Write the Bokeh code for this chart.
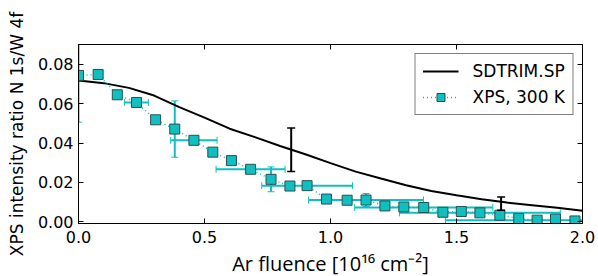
from bokeh.plotting import figure
from bokeh.models import (Range1d, LinearAxis, FixedTicker, ColumnDataSource, Whisker,
                          TeeHead, Legend, LegendItem)
from bokeh.embed import file_html
from bokeh.resources import INLINE

# ---- data ----
xps_x = [0.0, 0.078, 0.154, 0.230, 0.306, 0.382, 0.458, 0.533, 0.607, 0.683,
         0.764, 0.839, 0.907, 0.984, 1.066, 1.141, 1.216, 1.291, 1.370, 1.446,
         1.519, 1.593, 1.672, 1.747, 1.820, 1.893, 1.970]
xps_y = [0.0743, 0.0748, 0.0645, 0.0606, 0.0518, 0.0471, 0.0414, 0.0354, 0.0311, 0.0267,
         0.0216, 0.0182, 0.0184, 0.0116, 0.0110, 0.0111, 0.0081, 0.0076, 0.0073, 0.0049,
         0.0053, 0.0046, 0.0034, 0.0017, 0.0009, 0.0014, 0.0005]
xps_xerr = [0, 0, 0, 0.047, 0, 0, 0.092, 0, 0, 0.137,
            0, 0, 0.180, 0, 0, 0.228, 0, 0, 0.274, 0,
            0, 0.319, 0, 0, 0.364, 0, 0]
xps_yerr = [0.0237, 0, 0, 0, 0, 0.0143, 0, 0, 0, 0,
            0.0063, 0, 0, 0, 0, 0.0033, 0, 0, 0, 0,
            0.0016, 0, 0, 0, 0, 0.0004, 0]

sd_x = [0.0, 0.1, 0.2, 0.3, 0.4, 0.5, 0.6, 0.7, 0.8, 0.9, 1.0,
        1.1, 1.2, 1.3, 1.4, 1.5, 1.6, 1.7, 1.8, 1.9, 2.0]
sd_y = [0.0717, 0.0704, 0.0680, 0.0641, 0.0582, 0.0529, 0.0473, 0.0430, 0.0385, 0.0343, 0.0298,
        0.0255, 0.0220, 0.0186, 0.0157, 0.0135, 0.0115, 0.0098, 0.0085, 0.0072, 0.0057]
sd_err_x = [0.844, 1.677]
sd_err_y = [0.0366, 0.0093]
sd_err = [0.0110, 0.0034]

x_ticks = [0.0, 0.5, 1.0, 1.5, 2.0]
x_tick_labels = ["0.0", "0.5", "1.0", "1.5", "2.0"]
y_ticks = [0.00, 0.02, 0.04, 0.06, 0.08]
y_tick_labels = ["0.00", "0.02", "0.04", "0.06", "0.08"]

x_label = "Ar fluence [10\u00b9\u2076 cm\u207b\u00b2]"
y_label = "XPS intensity ratio N 1s/W 4f"
series_names = ["SDTRIM.SP", "XPS, 300 K"]

CYAN = "#10bfbf"

p = figure(frame_width=504, frame_height=179,
           x_range=Range1d(0, 2.0), y_range=Range1d(-0.0008, 0.09),
           output_backend="svg", toolbar_location=None,
           min_border_left=78, min_border_right=16, min_border_top=44, min_border_bottom=50)
p.xgrid.visible = False
p.ygrid.visible = False
p.outline_line_color = "black"
p.outline_line_width = 1
p.background_fill_color = "white"
p.border_fill_color = "white"

bottom_axis = p.xaxis[0]
left_axis = p.yaxis[0]
bottom_axis.ticker = FixedTicker(ticks=x_ticks)
bottom_axis.major_label_overrides = {t: l for t, l in zip(x_ticks, x_tick_labels)}
left_axis.ticker = FixedTicker(ticks=y_ticks)
left_axis.major_label_overrides = {t: l for t, l in zip(y_ticks, y_tick_labels)}

top_axis = LinearAxis(ticker=FixedTicker(ticks=x_ticks))
right_axis = LinearAxis(ticker=FixedTicker(ticks=y_ticks))
p.add_layout(top_axis, "above")
p.add_layout(right_axis, "right")

for ax in [bottom_axis, left_axis, top_axis, right_axis]:
    ax.major_tick_in = 5
    ax.major_tick_out = 0
    ax.minor_tick_in = 0
    ax.minor_tick_out = 0
    ax.axis_line_color = "black"
    ax.major_tick_line_color = "black"
    ax.major_label_text_color = "black"
    ax.major_label_text_font = "DejaVu Sans"
    ax.major_label_text_font_size = "16px"

for ax in [top_axis, right_axis]:
    ax.major_label_text_color = None
    ax.major_label_standoff = 0

bottom_axis.major_label_standoff = 7
left_axis.major_label_standoff = 5
bottom_axis.axis_label = x_label
bottom_axis.axis_label_text_font = "Open Sans"
bottom_axis.axis_label_text_font_size = "20px"
bottom_axis.axis_label_text_font_style = "normal"
bottom_axis.axis_label_text_color = "black"
bottom_axis.axis_label_standoff = 4
left_axis.axis_label = y_label
left_axis.axis_label_text_font = "DejaVu Sans"
left_axis.axis_label_text_font_size = "17px"
left_axis.axis_label_text_font_style = "normal"
left_axis.axis_label_text_color = "black"
left_axis.axis_label_standoff = 8

# SDTRIM curve
sd_line = p.line(sd_x, sd_y, line_color="black", line_width=2)
sd_src = ColumnDataSource(dict(x=sd_err_x,
                               lo=[y - e for y, e in zip(sd_err_y, sd_err)],
                               hi=[y + e for y, e in zip(sd_err_y, sd_err)]))
p.add_layout(Whisker(source=sd_src, base="x", lower="lo", upper="hi", dimension="height",
                     line_color="black", line_width=2, level="glyph",
                     upper_head=TeeHead(size=8, line_color="black", line_width=1.5),
                     lower_head=TeeHead(size=8, line_color="black", line_width=1.5)))

# XPS error bars
hx = [(x, y, e) for x, y, e in zip(xps_x, xps_y, xps_xerr) if e > 0]
hsrc = ColumnDataSource(dict(y=[t[1] for t in hx],
                             lo=[t[0] - t[2] for t in hx],
                             hi=[t[0] + t[2] for t in hx]))
p.add_layout(Whisker(source=hsrc, base="y", lower="lo", upper="hi", dimension="width",
                     line_color=CYAN, line_width=2, level="underlay",
                     upper_head=TeeHead(size=7, line_color=CYAN, line_width=1),
                     lower_head=TeeHead(size=7, line_color=CYAN, line_width=1)))
vy = [(x, y, e) for x, y, e in zip(xps_x, xps_y, xps_yerr) if e > 0]
vsrc = ColumnDataSource(dict(x=[t[0] for t in vy],
                             lo=[t[1] - t[2] for t in vy],
                             hi=[t[1] + t[2] for t in vy]))
p.add_layout(Whisker(source=vsrc, base="x", lower="lo", upper="hi", dimension="height",
                     line_color=CYAN, line_width=2, level="underlay",
                     upper_head=TeeHead(size=7, line_color=CYAN, line_width=1),
                     lower_head=TeeHead(size=7, line_color=CYAN, line_width=1)))

xps_line = p.line(xps_x, xps_y, line_color=CYAN, line_width=1.5, line_dash="1 3")
xps_pts = p.scatter(xps_x, xps_y, marker="square", size=10, fill_color=CYAN,
                    line_color="#2a4f4f", line_width=1)

legend = Legend(items=[LegendItem(label=series_names[0], renderers=[sd_line]),
                       LegendItem(label=series_names[1], renderers=[xps_line, xps_pts])],
                location="top_right", margin=9, padding=7, spacing=6,
                label_text_font="DejaVu Sans", label_text_font_size="17px",
                label_text_color="black", glyph_width=36, glyph_height=20,
                label_standoff=14, label_height=20,
                border_line_color="black", border_line_width=1,
                background_fill_alpha=1.0)
p.add_layout(legend)

open("out.html", "w").write(file_html(p, INLINE))
